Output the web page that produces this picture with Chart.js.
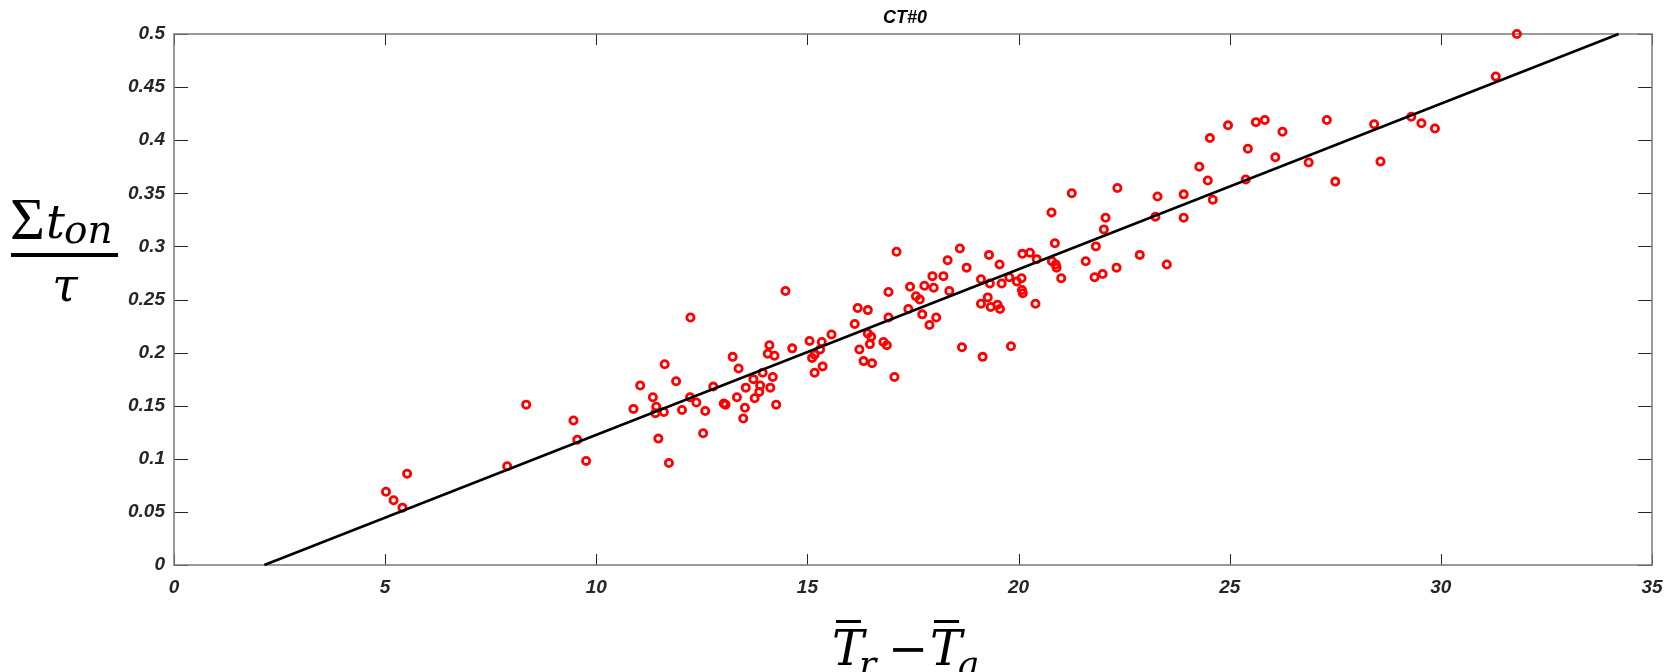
<!DOCTYPE html>
<html>
<head>
<meta charset="utf-8">
<title>CT#0</title>
<script src="https://cdn.jsdelivr.net/npm/chart.js@4"></script>
<style>
  html, body { margin: 0; padding: 0; background: #fff; }
  #wrap { width: 1674px; height: 672px; }
</style>
</head>
<body>
<div id="wrap"><canvas id="ctChart" width="1674" height="672"></canvas></div>
<script>
// values
const chartTitle = "CT#0";

const xVals = [
  5.02, 5.20, 5.41, 5.52, 7.89, 8.34, 9.46, 9.55, 9.76,
  10.88, 11.04, 11.34, 11.42, 11.40, 11.60, 11.47, 11.62, 11.72, 11.89,
  12.03, 12.22, 12.37, 12.53, 12.58, 12.77, 13.02, 13.06, 13.23, 13.37,
  13.33, 13.48, 13.52, 13.54, 13.72, 13.75, 13.88, 13.86, 13.94, 14.10,
  14.06, 14.22, 14.18, 14.12, 14.26, 14.64, 15.05, 15.34, 15.30, 15.17,
  15.11, 15.57, 15.36, 15.17, 16.12, 16.19, 16.43, 16.23, 16.43, 16.51,
  16.48, 16.33, 16.53, 14.48, 12.23,
  21.26, 22.34, 23.29, 20.78, 22.06, 22.02, 23.24, 21.83, 20.86, 17.11,
  18.61, 18.32, 19.30, 19.55, 20.09, 20.27, 20.43, 20.79, 20.88, 20.90,
  21.59, 21.01, 21.80, 21.99, 22.32, 22.87, 23.51, 18.77, 17.96, 18.22,
  17.43, 17.77, 17.99, 18.36, 19.11, 19.32, 19.60, 19.78, 19.96, 20.07,
  20.08, 20.10, 20.40, 16.92, 17.57, 17.66, 17.39, 17.72, 18.05, 17.89,
  16.92, 19.11, 19.27, 19.34, 19.50, 19.56, 18.66, 19.15, 19.82, 17.06,
  16.80, 16.88,
  31.30, 23.91, 23.91, 24.60, 24.48, 24.28, 24.53, 24.96, 25.43, 25.38,
  25.62, 25.83, 26.25, 26.08, 26.87, 27.30, 27.50, 28.42, 28.57, 29.30,
  29.54, 29.86, 31.80
];

const yVals = [
  0.069, 0.061, 0.054, 0.086, 0.093, 0.151, 0.136, 0.118, 0.098,
  0.147, 0.169, 0.158, 0.149, 0.143, 0.144, 0.119, 0.189, 0.096, 0.173,
  0.146, 0.158, 0.153, 0.124, 0.145, 0.168, 0.152, 0.151, 0.196, 0.185,
  0.158, 0.138, 0.148, 0.167, 0.175, 0.157, 0.169, 0.163, 0.181, 0.207,
  0.199, 0.197, 0.177, 0.167, 0.151, 0.204, 0.211, 0.210, 0.203, 0.198,
  0.195, 0.217, 0.187, 0.181, 0.227, 0.242, 0.240, 0.203, 0.218, 0.215,
  0.208, 0.192, 0.190, 0.258, 0.233,
  0.350, 0.355, 0.347, 0.332, 0.327, 0.316, 0.328, 0.300, 0.303, 0.295,
  0.298, 0.287, 0.292, 0.283, 0.293, 0.294, 0.288, 0.286, 0.283, 0.280,
  0.286, 0.270, 0.271, 0.274, 0.280, 0.292, 0.283, 0.280, 0.272, 0.272,
  0.262, 0.263, 0.261, 0.258, 0.269, 0.265, 0.265, 0.271, 0.267, 0.270,
  0.259, 0.256, 0.246, 0.257, 0.253, 0.250, 0.241, 0.236, 0.233, 0.226,
  0.233, 0.246, 0.252, 0.243, 0.245, 0.241, 0.205, 0.196, 0.206, 0.177,
  0.210, 0.207,
  0.460, 0.349, 0.327, 0.344, 0.362, 0.375, 0.402, 0.414, 0.392, 0.363,
  0.417, 0.419, 0.408, 0.384, 0.379, 0.419, 0.361, 0.415, 0.380, 0.422,
  0.416, 0.411, 0.500
];

// fitted line end points
const fitX = [2.14, 34.21];
const fitY = [0, 0.5];

const xTicks = [0, 5, 10, 15, 20, 25, 30, 35];
const xTickLabels = ["0", "5", "10", "15", "20", "25", "30", "35"];
const yTicks = [0, 0.05, 0.1, 0.15, 0.2, 0.25, 0.3, 0.35, 0.4, 0.45, 0.5];
const yTickLabels = ["0", "0.05", "0.1", "0.15", "0.2", "0.25", "0.3", "0.35", "0.4", "0.45", "0.5"];

const tickFont = { family: "'Liberation Sans', Arial, sans-serif", size: 19, weight: "bold", style: "italic" };
const mathFont = "'DejaVu Serif', 'Liberation Serif', serif";

// box with inward ticks on all four sides, plus title and math axis labels
const axesDecor = {
  id: "axesDecor",
  beforeDatasetsDraw(chart) {
    const { ctx, chartArea: a, scales } = chart;
    ctx.save();
    ctx.strokeStyle = "#262626";
    ctx.lineWidth = 1;
    ctx.beginPath();
    xTicks.forEach((v) => {
      const px = Math.round(scales.x.getPixelForValue(v)) + 0.5;
      ctx.moveTo(px, a.bottom); ctx.lineTo(px, a.bottom - 11);
      ctx.moveTo(px, a.top); ctx.lineTo(px, a.top + 11);
    });
    yTicks.forEach((v) => {
      const py = Math.round(scales.y.getPixelForValue(v)) + 0.5;
      ctx.moveTo(a.left, py); ctx.lineTo(a.left + 14, py);
      ctx.moveTo(a.right, py); ctx.lineTo(a.right - 14, py);
    });
    ctx.stroke();
    ctx.strokeStyle = "#7a7a7a";
    ctx.lineWidth = 1.5;
    ctx.strokeRect(a.left, a.top, a.right - a.left, a.bottom - a.top);
    ctx.restore();
  },
  afterDraw(chart) {
    const { ctx, chartArea: a } = chart;
    const cx = (a.left + a.right) / 2 - 8;
    ctx.save();
    ctx.fillStyle = "#000";
    ctx.textBaseline = "alphabetic";

    // title
    ctx.font = "italic bold 18px 'Liberation Sans', Arial, sans-serif";
    ctx.textAlign = "center";
    ctx.fillText(chartTitle, cx, 23);

    // x label: T̄r − T̄a
    ctx.textAlign = "left";
    const x0 = cx - 73;
    ctx.font = "italic 48px " + mathFont;
    ctx.fillText("T", x0, 665);
    ctx.fillText("T", x0 + 98, 665);
    ctx.font = "italic 36px " + mathFont;
    ctx.fillText("r", x0 + 27, 676);
    ctx.fillText("a", x0 + 126, 676);
    ctx.font = "48px " + mathFont;
    ctx.fillText("\u2212", x0 + 56, 665);
    ctx.fillRect(x0 + 4, 620, 25, 3);
    ctx.fillRect(x0 + 102, 620, 25, 3);

    // y label: Σ t_on / τ
    ctx.font = "60px 'Liberation Serif', serif";
    ctx.fillText("\u03A3", 10, 239);
    ctx.font = "italic 47px " + mathFont;
    ctx.fillText("t", 46, 238);
    ctx.font = "italic 39px " + mathFont;
    ctx.fillText("on", 64, 243);
    ctx.fillRect(11, 253, 107, 4);
    ctx.font = "italic 46px " + mathFont;
    ctx.textAlign = "center";
    ctx.fillText("\u03C4", 65, 301);
    ctx.restore();
  }
};

new Chart(document.getElementById("ctChart"), {
  type: "scatter",
  data: {
    datasets: [
      {
        type: "line",
        label: "fit",
        data: fitX.map((x, i) => ({ x, y: fitY[i] })),
        borderColor: "#000000",
        borderWidth: 2.5,
        pointRadius: 0,
        fill: false,
        clip: false,
        order: 0
      },
      {
        label: chartTitle,
        data: xVals.map((x, i) => ({ x, y: yVals[i] })),
        borderColor: "#ff0000",
        backgroundColor: "rgba(0,0,0,0)",
        pointRadius: 3.6,
        pointHoverRadius: 3.6,
        borderWidth: 2.8,
        clip: false,
        order: 1
      }
    ]
  },
  options: {
    responsive: false,
    animation: false,
    devicePixelRatio: 1,
    layout: { padding: { top: 34, right: 22, left: 0, bottom: 0 } },
    plugins: {
      legend: { display: false },
      tooltip: { enabled: false },
      title: { display: false }
    },
    scales: {
      x: {
        type: "linear",
        min: 0,
        max: 35,
        afterBuildTicks: (s) => { s.ticks = xTicks.map((v) => ({ value: v })); },
        afterFit: (s) => { s.height = 107; },
        ticks: {
          callback: (v, i) => xTickLabels[i],
          font: tickFont,
          color: "#262626",
          padding: 11,
          maxRotation: 0,
          autoSkip: false
        },
        grid: { display: false, drawTicks: false },
        border: { display: false }
      },
      y: {
        type: "linear",
        min: 0,
        max: 0.5,
        afterBuildTicks: (s) => { s.ticks = yTicks.map((v) => ({ value: v })); },
        afterFit: (s) => { s.width = 174; },
        ticks: {
          callback: (v, i) => yTickLabels[i],
          font: tickFont,
          color: "#262626",
          padding: 9,
          autoSkip: false
        },
        grid: { display: false, drawTicks: false },
        border: { display: false }
      }
    }
  },
  plugins: [axesDecor]
});
</script>
</body>
</html>
